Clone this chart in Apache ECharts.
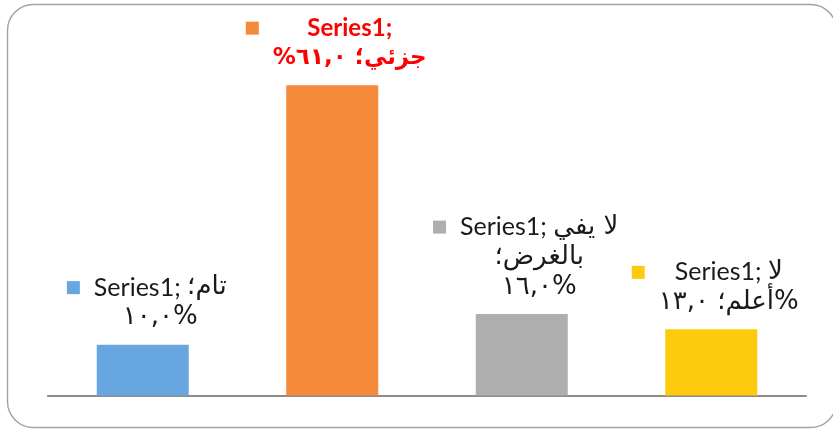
<!DOCTYPE html>
<html><head><meta charset="utf-8">
<script src="https://cdn.jsdelivr.net/npm/echarts@6/dist/echarts.min.js"></script>
<style>html,body{margin:0;padding:0;background:#fff}#c{width:833px;height:429px}</style>
</head><body><div id="c"></div>
<script>
const categories = ['تام', 'جزئي', 'لا يفي بالغرض', 'لا أعلم'];
const values = [10, 61, 16, 13];
const seriesName = 'Series1';
const colors = ['#67A6E0', '#F68A3B', '#AFAFAF', '#FECA0E'];

const AR_DIGITS = '٠١٢٣٤٥٦٧٨٩';
function pct(v) {
  return v.toFixed(1).replace(/\d/g, d => AR_DIGITS[+d]).replace('.', ',') + '%';
}
const RLE = '\u202B', PDF = '\u202C';
const SEP = '؛';
function words(i) { return categories[i].split(' '); }
// wrapped label lines as in the reference; each line = segments [kind, text] in visual order
// kind 'L' = latin text, 'A' = arabic text
const labelLines = [
  [[['L', seriesName + '; '], ['A', categories[0] + SEP]], [['A', pct(values[0])]]],
  [[['L', seriesName + ';']], [['A', RLE + categories[1] + SEP + ' ' + pct(values[1]) + PDF]]],
  [[['L', seriesName + '; '], ['A', words(2).slice(0, 2).join(' ')]], [['A', words(2)[2] + SEP]], [['A', pct(values[2])]]],
  [[['L', seriesName + '; '], ['A', words(3)[0]]], [['A', words(3)[1] + SEP + ' ' + pct(values[3])]]]
];

const LATIN_FAMILY = 'Lato, sans-serif';
const ARABIC_FAMILY = '"DejaVu Sans", sans-serif';
const LINE_H = 30;
const mctx = document.createElement('canvas').getContext('2d');
function sizes(bold) { return bold ? { L: 24, A: 23 } : { L: 25, A: 26 }; }
function fontOf(kind, bold) {
  const sz = sizes(bold)[kind];
  return (bold ? 'bold ' : 'normal ') + sz + 'px ' + (kind === 'L' ? LATIN_FAMILY : ARABIC_FAMILY);
}
function measure(kind, text, bold) {
  mctx.font = fontOf(kind, bold);
  return mctx.measureText(text).width;
}

const data = values.map((v, i) => {
  const bold = i === 1;
  const textColor = i === 1 ? '#FF0000' : '#1a1a1a';
  const lines = labelLines[i];
  const sz = sizes(bold);
  const widths = lines.map(segs => segs.reduce((s, seg) => s + measure(seg[0], seg[1], bold), 0));
  const W = Math.max.apply(null, widths);
  const common = { fontWeight: bold ? 'bold' : 'normal', color: textColor, lineHeight: LINE_H, align: 'center' };
  const rich = {
    m: { width: 13, height: 13, backgroundColor: colors[i], align: 'center', lineHeight: LINE_H },
    g: { width: 14, align: 'center', lineHeight: LINE_H },
    s: { width: 27, align: 'center', lineHeight: LINE_H },
    L: Object.assign({ fontSize: sz.L, fontFamily: LATIN_FAMILY }, common),
    A: Object.assign({ fontSize: sz.A, fontFamily: ARABIC_FAMILY }, common)
  };
  const fmt = lines.map((segs, k) => {
    const pad = Math.max(0.01, (W - widths[k]) / 2);
    const pn = 'p' + k;
    rich[pn] = { width: pad, align: 'center', lineHeight: LINE_H };
    return (k === 0 ? '{m|}{g|}' : '{s|}') + '{' + pn + '|}' +
      segs.map(seg => '{' + seg[0] + '|' + seg[1] + '}').join('') + '{' + pn + '|}';
  }).join('\n');
  return {
    value: v,
    itemStyle: { color: colors[i] },
    label: { show: true, position: 'top', distance: 12, offset: [4, 0], formatter: fmt, rich: rich }
  };
});

const chart = echarts.init(document.getElementById('c'), null, { renderer: 'canvas' });
chart.setOption({
  animation: false,
  backgroundColor: '#ffffff',
  graphic: [{
    type: 'rect', silent: true,
    shape: { x: 7.5, y: 4.5, width: 829, height: 423, r: 26 },
    style: { fill: 'none', stroke: '#a3a3a3', lineWidth: 1.4 }
  }],
  grid: { left: 48, right: 27, top: 39.4, bottom: 33.5, containLabel: false },
  xAxis: {
    type: 'category', data: categories,
    axisLine: { show: true, lineStyle: { color: '#8c8c8c', width: 2.2 } },
    axisTick: { show: false }, axisLabel: { show: false }, splitLine: { show: false }
  },
  yAxis: {
    type: 'value', min: 0, max: 70, interval: 10, show: false,
    splitLine: { show: false }
  },
  series: [{
    type: 'bar', name: seriesName, data: data, barWidth: 92,
    itemStyle: { borderWidth: 0 }
  }]
});
</script></body></html>
